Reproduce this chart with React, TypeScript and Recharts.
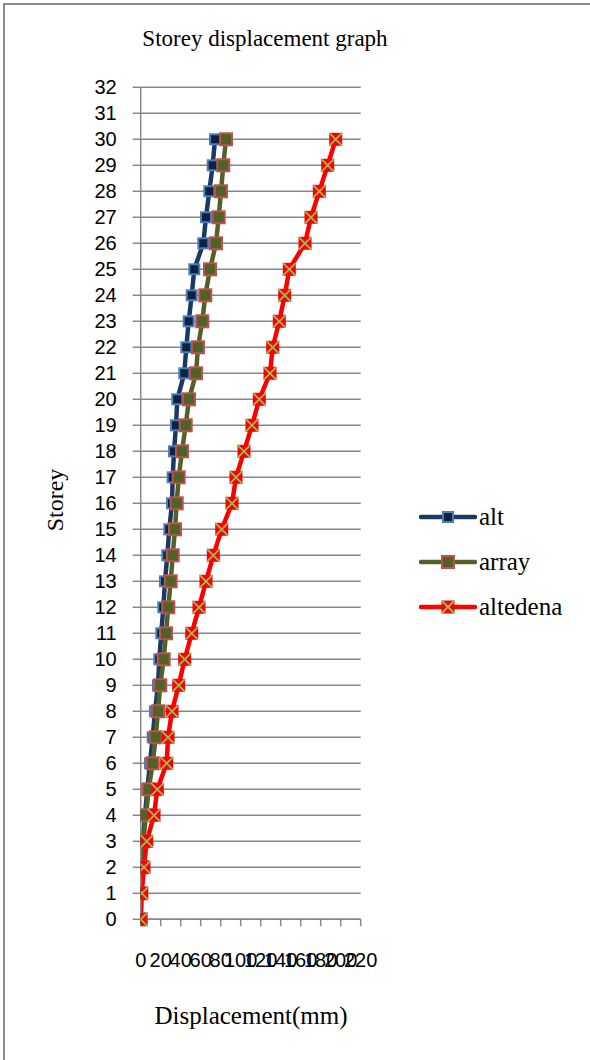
import React from 'react'
import {
  LineChart,
  Line,
  XAxis,
  YAxis,
  CartesianGrid,
} from 'recharts'

const storeys = [
  0, 1, 2, 3, 4, 5, 6, 7, 8, 9, 10, 11, 12, 13, 14, 15, 16, 17, 18, 19, 20,
  21, 22, 23, 24, 25, 26, 27, 28, 29, 30,
]

const alt = [
  0, 0.3, 1, 2, 4.3, 6.6, 9.3, 12, 14.3, 17.3, 18.6, 20.6, 22.6, 24.3, 26.6,
  28.6, 31.3, 32, 33.3, 35.3, 36.6, 43.6, 45.6, 48, 51, 53.6, 62.6, 65.3, 68.6,
  72, 74.3,
]

const array = [
  0, 0.5, 1.5, 2.6, 5.3, 8, 12, 15, 17.3, 19.6, 23, 25.3, 27.6, 30, 32, 34.3,
  36, 38, 41.3, 45, 48.3, 55.3, 57.3, 61.6, 64.6, 69.3, 75.3, 78, 80.3, 82.6,
  85.3,
]

const altedena = [
  0, 1, 3.3, 6, 13.3, 16.6, 26, 27.3, 31.3, 38, 44, 51, 58.3, 65.3, 72.6, 81,
  91.3, 95.3, 103.3, 111.3, 118.6, 129.3, 132, 138.6, 144, 148.6, 164.3, 170.3,
  178.6, 187, 195,
]

const xTicks = [0, 20, 40, 60, 80, 100, 120, 140, 160, 180, 200, 220]
const yTicks = Array.from({ length: 33 }, (_, i) => i)

const data = storeys.map((s, i) => ({
  storey: s,
  alt: alt[i],
  array: array[i],
  altedena: altedena[i],
}))

const BLUE = '#1b3a63'
const GREEN = '#4f6228'
const RED = '#ff0000'
const GRID = '#878787'

const SquareDot = (fill: string, stroke: string, size: number) => (props: any) => {
  const { cx, cy, index } = props
  if (cx == null || cy == null) return <g key={`d-${index}`} />
  return (
    <rect
      key={`d-${index}`}
      x={cx - size / 2}
      y={cy - size / 2}
      width={size}
      height={size}
      fill={fill}
      stroke={stroke}
      strokeWidth={2}
    />
  )
}

const CrossDot = (props: any) => {
  const { cx, cy, index } = props
  if (cx == null || cy == null) return <g key={`x-${index}`} />
  const h = 6.5
  return (
    <g key={`x-${index}`}>
      <rect x={cx - h} y={cy - h} width={h * 2} height={h * 2} fill={RED} />
      <line x1={cx - h} y1={cy - h} x2={cx + h} y2={cy + h} stroke="#9bbb59" strokeWidth={1.8} />
      <line x1={cx - h} y1={cy + h} x2={cx + h} y2={cy - h} stroke="#9bbb59" strokeWidth={1.8} />
    </g>
  )
}

const legendItems = [
  { name: 'alt', color: BLUE, marker: 'blue' },
  { name: 'array', color: GREEN, marker: 'green' },
  { name: 'altedena', color: RED, marker: 'cross' },
]

const LegendMarker = ({ color, marker }: { color: string; marker: string }) => (
  <svg width={58} height={16} style={{ display: 'block' }}>
    <line x1={2} y1={8} x2={56} y2={8} stroke={color} strokeWidth={4.5} strokeLinecap="round" />
    {marker === 'blue' && (
      <rect x={24} y={3} width={10} height={10} fill="#0e2240" stroke="#4a7ebb" strokeWidth={2} />
    )}
    {marker === 'green' && (
      <rect x={23} y={2} width={12} height={12} fill={GREEN} stroke="#c0504d" strokeWidth={2} />
    )}
    {marker === 'cross' && (
      <g>
        <rect x={22.5} y={1.5} width={13} height={13} fill={RED} />
        <line x1={22.5} y1={1.5} x2={35.5} y2={14.5} stroke="#9bbb59" strokeWidth={1.8} />
        <line x1={22.5} y1={14.5} x2={35.5} y2={1.5} stroke="#9bbb59" strokeWidth={1.8} />
      </g>
    )}
  </svg>
)

const serif = '"Liberation Serif", "Times New Roman", serif'
const sans = '"Liberation Sans", Arial, sans-serif'

export default function App() {
  return (
    <div style={{ position: 'absolute', left: 0, top: 0, width: 590, height: 1060, background: '#fff' }}>
      <div
        style={{
          position: 'absolute',
          left: 3,
          top: 3,
          width: 587,
          height: 1057,
          borderLeft: '2px solid #8c8c8c',
          borderTop: '2px solid #8c8c8c',
        }}
      />
      <div
        style={{
          position: 'absolute',
          left: 0,
          width: 530,
          top: 24,
          textAlign: 'center',
          fontFamily: serif,
          fontSize: 23,
          lineHeight: '30px',
        }}
      >
        Storey displacement graph
      </div>
      <div
        style={{
          position: 'absolute',
          left: 55,
          top: 500,
          transform: 'translate(-50%, -50%) rotate(-90deg)',
          fontFamily: serif,
          fontSize: 24,
          whiteSpace: 'nowrap',
        }}
      >
        Storey
      </div>
      <div
        style={{
          position: 'absolute',
          left: 251,
          top: 1016,
          transform: 'translate(-50%, -50%)',
          fontFamily: serif,
          fontSize: 25,
          whiteSpace: 'nowrap',
        }}
      >
        Displacement(mm)
      </div>
      <div style={{ position: 'absolute', left: 0, top: 0 }}>
        <LineChart
          width={590}
          height={1060}
          data={data}
          layout="vertical"
          margin={{ top: 87.3, right: 229.3, bottom: 80.7, left: 40.7 }}
        >
          <CartesianGrid horizontal vertical={false} stroke={GRID} strokeWidth={1.5} />
          <XAxis
            type="number"
            domain={[0, 220]}
            ticks={xTicks}
            interval={0}
            allowDataOverflow
            stroke={GRID}
            strokeWidth={1.5}
            tickSize={7}
            tickMargin={26}
            height={60}
            tick={{ fill: '#000', fontSize: 20, fontFamily: sans }}
          />
          <YAxis
            type="number"
            dataKey="storey"
            domain={[0, 32]}
            ticks={yTicks}
            interval={0}
            reversed
            stroke={GRID}
            strokeWidth={1.5}
            tickSize={8}
            tickMargin={16}
            width={100}
            tick={{ fill: '#000', fontSize: 20, fontFamily: sans }}
          />
          <Line
            dataKey="alt"
            name="alt"
            stroke={BLUE}
            strokeWidth={4.5}
            dot={SquareDot('#0e2240', '#4a7ebb', 10)}
            activeDot={false}
            isAnimationActive={false}
          />
          <Line
            dataKey="array"
            name="array"
            stroke={GREEN}
            strokeWidth={4.5}
            dot={SquareDot(GREEN, '#c0504d', 12)}
            activeDot={false}
            isAnimationActive={false}
          />
          <Line
            dataKey="altedena"
            name="altedena"
            stroke={RED}
            strokeWidth={4.5}
            dot={CrossDot}
            activeDot={false}
            isAnimationActive={false}
          />
        </LineChart>
      </div>
      <div
        style={{
          position: 'absolute',
          left: 419,
          top: 494,
          width: 170,
          fontFamily: serif,
          fontSize: 25,
          color: '#000',
        }}
      >
        {legendItems.map((it) => (
          <div key={it.name} style={{ display: 'flex', alignItems: 'center', height: 45 }}>
            <LegendMarker color={it.color} marker={it.marker} />
            <span style={{ marginLeft: 2, lineHeight: '25px' }}>{it.name}</span>
          </div>
        ))}
      </div>
    </div>
  )
}
